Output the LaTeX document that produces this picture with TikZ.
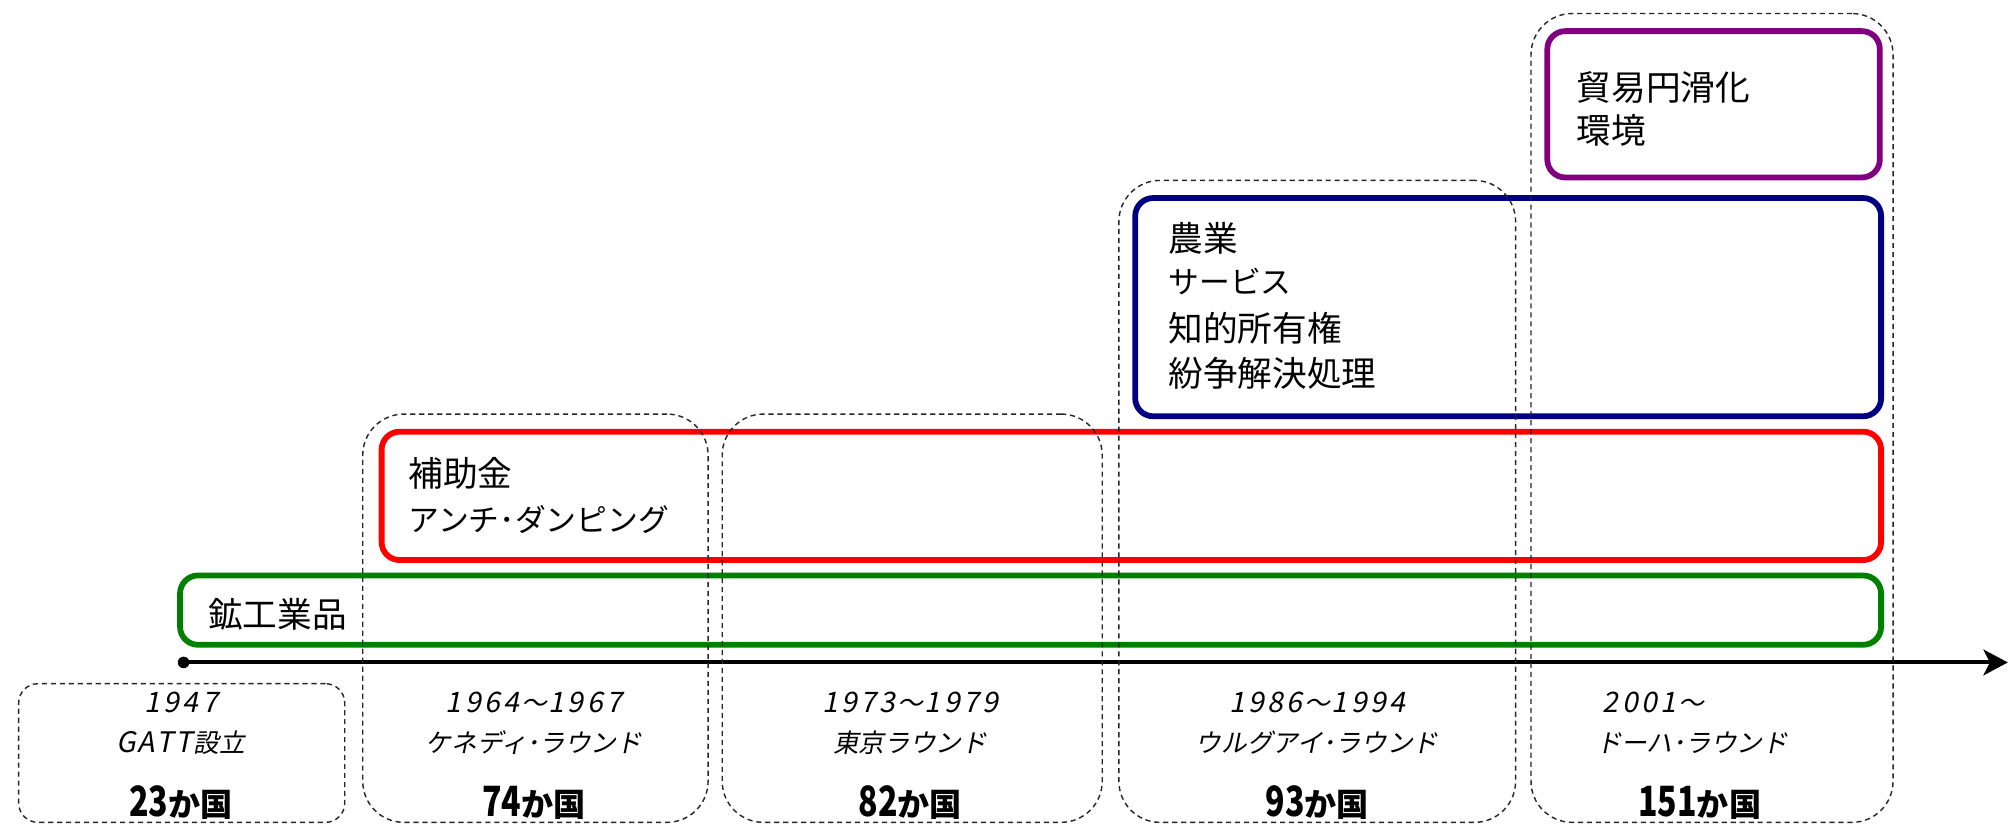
\documentclass[tikz,border=0pt]{standalone}
\usepackage{fontspec}
\usepackage{graphicx}
\newfontfamily\jp{Noto Sans CJK JP}
\newfontfamily\jpit{Noto Sans CJK JP}[FakeSlant=0.2]
\usetikzlibrary{arrows.meta}
\definecolor{cgreen}{RGB}{0,128,0}
\definecolor{cred}{RGB}{255,0,0}
\definecolor{cblue}{RGB}{0,0,128}
\definecolor{cpurple}{RGB}{128,0,128}
\newcommand\dgt[1]{\makebox[15pt]{\fontsize{22}{24}\selectfont #1}}
\newcommand\tall[1]{\scalebox{1}[1.3]{#1}}
\tikzset{
  topic/.style={draw, line width=4.5pt, rounded corners=14pt, inner sep=0pt, anchor=north west},
  round/.style={draw=black!85, line width=1.1pt, dash pattern=on 4pt off 3pt, rounded corners=#1, inner sep=0pt, anchor=north west},
  round/.default=32pt,
  lab/.style={font=\jp\fontsize{27}{30}\selectfont, inner sep=0pt, anchor=base west},
  kana/.style={lab, font=\jp\fontsize{24}{30}\selectfont},
  yr/.style={font=\jpit\fontsize{20}{24}\selectfont, inner sep=0pt, anchor=base},
  cnt/.style={font=\jp\bfseries\fontsize{25}{30}\selectfont, inner sep=0pt, anchor=base},
}
\begin{document}
\begin{tikzpicture}[x=1pt,y=-1pt]
\useasboundingbox (0,0) rectangle (1568,644);
% topic boxes
\node[topic, draw=cgreen, minimum width=1325pt, minimum height=54pt] (g) at (138,446) {};
\node[topic, draw=cred, minimum width=1168pt, minimum height=100pt] (r) at (295,334) {};
\node[topic, draw=cblue, minimum width=581pt, minimum height=170pt] (b) at (882,152) {};
\node[topic, draw=cpurple, minimum width=259pt, minimum height=114pt] (p) at (1203,22) {};
% topic labels
\node[lab] (g1) at (162,489) {鉱工業品};
\node[lab] (r1) at (318,379) {補助金};
\node[kana] (r2) at (318,414) {アンチ･ダンピング};
\node[lab] (b1) at (910,196) {農業};
\node[kana] (b2) at (910,229) {サービス};
\node[lab] (b3) at (910,266) {知的所有権};
\node[lab] (b4) at (910,301) {紛争解決処理};
\node[lab] (p1) at (1228,78) {貿易円滑化};
\node[lab] (p2) at (1228,112) {環境};
% timeline
\node[circle, fill=black, inner sep=0pt, minimum size=9pt] (start) at (143,516) {};
\coordinate (tip) at (1564,516);
\draw[line width=3.2pt, -{Stealth[length=19pt,width=20pt,inset=5pt]}] (start.center) -- (tip);
% round boxes
\node[round=15pt, minimum width=254pt, minimum height=108pt] (d1) at (14,532) {};
\node[round, minimum width=269pt, minimum height=318pt] (d2) at (282,322) {};
\node[round, minimum width=296pt, minimum height=318pt] (d3) at (562,322) {};
\node[round, minimum width=309pt, minimum height=500pt] (d4) at (871,140) {};
\node[round, minimum width=282pt, minimum height=630pt] (d5) at (1192,10) {};
% round labels
\node[yr] (y1) at (141,555) {\dgt{1}\dgt{9}\dgt{4}\dgt{7}};
\node[yr] (n1) at (141,586) {\dgt{G}\dgt{A}\dgt{T}\dgt{T}設立};
\node[cnt] (c1) at (141,636) {\tall{23}か国};
\node[yr] (y2) at (416,555) {\dgt{1}\dgt{9}\dgt{6}\dgt{4}～\dgt{1}\dgt{9}\dgt{6}\dgt{7}};
\node[yr] (n2) at (416,586) {ケネディ･ラウンド};
\node[cnt] (c2) at (416,636) {\tall{74}か国};
\node[yr] (y3) at (709,555) {\dgt{1}\dgt{9}\dgt{7}\dgt{3}～\dgt{1}\dgt{9}\dgt{7}\dgt{9}};
\node[yr] (n3) at (709,586) {東京ラウンド};
\node[cnt] (c3) at (709,636) {\tall{82}か国};
\node[yr] (y4) at (1026,555) {\dgt{1}\dgt{9}\dgt{8}\dgt{6}～\dgt{1}\dgt{9}\dgt{9}\dgt{4}};
\node[yr] (n4) at (1026,586) {ウルグアイ･ラウンド};
\node[cnt] (c4) at (1026,636) {\tall{93}か国};
\node[yr, anchor=base west] (y5) at (1247,555) {\dgt{2}\dgt{0}\dgt{0}\dgt{1}～};
\node[yr, anchor=base west] (n5) at (1243,586) {ドーハ･ラウンド};
\node[cnt] (c5) at (1324,636) {\tall{151}か国};
\end{tikzpicture}
\end{document}
